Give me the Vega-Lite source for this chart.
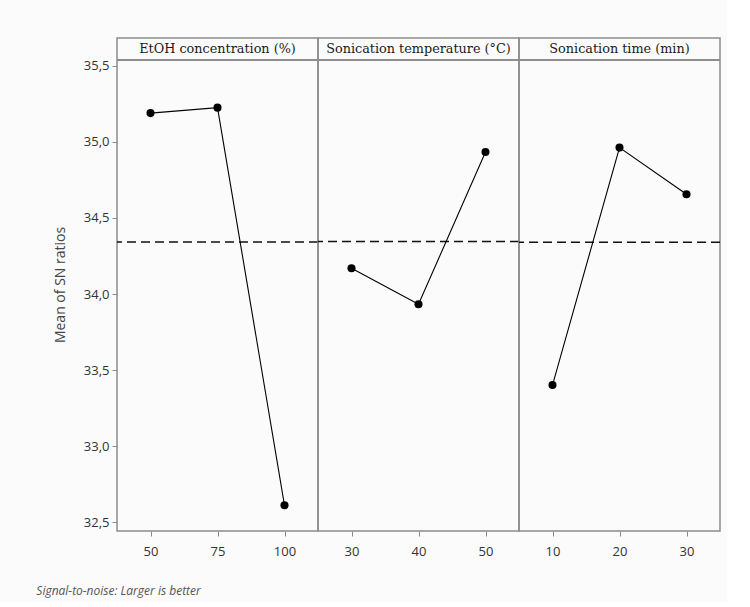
{
  "$schema": "https://vega.github.io/schema/vega-lite/v6.json",
  "background": "#fbfbfb",
  "padding": {"left": 36, "top": 37, "right": 5, "bottom": 5},
  "autosize": {"type": "pad"},
  "bounds": "flush",
  "data": {
    "values": [
      {"factor": "EtOH concentration (%)", "level": 50, "value": 35.19},
      {"factor": "EtOH concentration (%)", "level": 75, "value": 35.226},
      {"factor": "EtOH concentration (%)", "level": 100, "value": 32.61},
      {"factor": "Sonication temperature (°C)", "level": 30, "value": 34.169},
      {"factor": "Sonication temperature (°C)", "level": 40, "value": 33.932},
      {"factor": "Sonication temperature (°C)", "level": 50, "value": 34.934},
      {"factor": "Sonication time (min)", "level": 10, "value": 33.401},
      {"factor": "Sonication time (min)", "level": 20, "value": 34.963},
      {"factor": "Sonication time (min)", "level": 30, "value": 34.656}
    ]
  },
  "title": {
    "text": "Signal-to-noise: Larger is better",
    "orient": "bottom",
    "anchor": "start",
    "frame": "bounds",
    "font": "Open Sans",
    "fontSize": 12,
    "fontStyle": "italic",
    "fontWeight": "normal",
    "color": "#555555",
    "offset": 27,
    "dx": -17
  },
  "facet": {
    "column": {
      "field": "factor",
      "type": "nominal",
      "sort": ["EtOH concentration (%)", "Sonication temperature (°C)", "Sonication time (min)"],
      "header": {"title": null, "labels": false}
    }
  },
  "spacing": 0,
  "resolve": {"scale": {"x": "independent"}},
  "spec": {
    "width": 201,
    "height": 493,
    "layer": [
      {
        "mark": {"type": "rule", "stroke": "#8c8c8c", "strokeWidth": 1.5},
        "encoding": {
          "y": {"datum": 35.539, "type": "quantitative", "title": "Mean of SN ratios"}
        }
      },
      {
        "transform": [{"aggregate": [{"op": "count", "as": "n"}], "groupby": ["factor"]}],
        "mark": {"type": "text", "font": "DejaVu Serif", "fontSize": 12.8, "color": "#1a1a1a", "baseline": "middle", "align": "center"},
        "encoding": {
          "y": {"datum": 35.612, "type": "quantitative", "title": "Mean of SN ratios"},
          "text": {"field": "factor", "type": "nominal"}
        }
      },
      {
        "mark": {"type": "rule", "color": "#111111", "strokeWidth": 1.5, "strokeDash": [9, 5]},
        "encoding": {
          "y": {"aggregate": "mean", "field": "value", "type": "quantitative", "title": "Mean of SN ratios"}
        }
      },
      {
        "mark": {
          "type": "line",
          "color": "#000000",
          "strokeWidth": 1.1,
          "point": {"filled": true, "size": 65, "color": "#000000", "opacity": 1}
        },
        "encoding": {
          "x": {
            "field": "level",
            "type": "ordinal",
            "title": null,
            "axis": {
              "labelAngle": 0,
              "domain": false,
              "tickColor": "#8c8c8c",
              "tickSize": 5,
              "labelPadding": 9,
              "labelFont": "Open Sans",
              "labelFontSize": 13,
              "labelColor": "#333333"
            }
          },
          "y": {
            "field": "value",
            "type": "quantitative",
            "title": "Mean of SN ratios",
            "scale": {"domain": [32.441, 35.684], "zero": false, "nice": false},
            "axis": {
              "values": [32.5, 33, 33.5, 34, 34.5, 35, 35.5],
              "labelExpr": "replace(format(datum.value, '.1f'), '.', ',')",
              "domain": false,
              "grid": false,
              "tickColor": "#8c8c8c",
              "tickSize": 5,
              "labelPadding": 3,
              "labelFont": "Open Sans",
              "labelFontSize": 13,
              "labelColor": "#333333",
              "titleFont": "Open Sans",
              "titleFontSize": 14,
              "titleFontWeight": "normal",
              "titleColor": "#444444",
              "titlePadding": 16
            }
          }
        }
      }
    ]
  },
  "config": {
    "view": {"stroke": "#8c8c8c", "strokeWidth": 1.5}
  }
}
